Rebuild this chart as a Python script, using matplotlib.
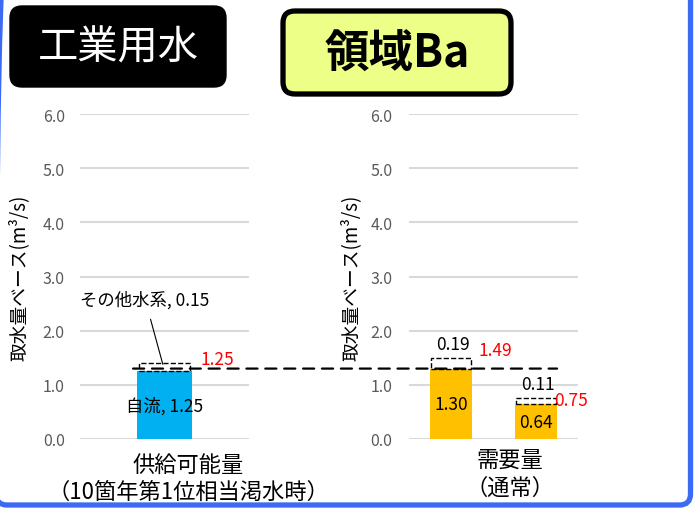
import matplotlib.pyplot as plt
from matplotlib.patches import FancyBboxPatch, ConnectionPatch

plt.rcParams['font.family'] = ['Noto Sans CJK JP', 'DejaVu Sans']

# data
supply_cat = ['供給可能量', '（10箇年第1位相当渇水時）']
supply_main = 1.25
supply_other = 0.15
supply_total = 1.25
supply_main_label = '自流, 1.25'
supply_other_label = 'その他水系, 0.15'

demand_cat = ['需要量', '（通常）']
demand_main = [1.30, 0.64]
demand_extra = [0.19, 0.11]
demand_total = [1.49, 0.75]
demand_line = 1.30

yticks = [0.0, 1.0, 2.0, 3.0, 4.0, 5.0, 6.0]
ylabel = '取水量ベース(m³/s)'

W, H = 697, 510
fig = plt.figure(figsize=(W / 100, H / 100), dpi=100)

# decoration layer in pixel coordinates
deco = fig.add_axes([0, 0, 1, 1], zorder=0)
deco.set_xlim(0, W)
deco.set_ylim(H, 0)
deco.axis('off')
deco.add_patch(FancyBboxPatch((-4, -60), 694.5, 566, boxstyle='round,pad=0,rounding_size=11',
                              fc='none', ec='#3D6AF5', lw=3.8))
deco.add_patch(FancyBboxPatch((10, 7), 216, 81, boxstyle='round,pad=0,rounding_size=12',
                              fc='black', ec='black', lw=1))
deco.text(118, 48, '工業用水', color='white', fontsize=29,
          ha='center', va='center')
deco.add_patch(FancyBboxPatch((283, 12), 228, 83, boxstyle='round,pad=0,rounding_size=12',
                              fc='#EEFF88', ec='black', lw=3.8))
deco.text(397, 55, '領域Ba', color='black', fontsize=32, fontweight='bold', ha='center', va='center')


def style_axes(ax, pad):
    ax.set_xlim(0, 1)
    ax.set_ylim(0, 6)
    ax.set_yticks(yticks)
    ax.set_yticklabels([f'{v:.1f}' for v in yticks])
    ax.set_xticks([])
    ax.tick_params(axis='y', length=0, pad=pad, labelsize=11.5, labelcolor='#595959')
    ax.grid(axis='y', color='#D9D9D9', lw=1.5)
    ax.set_axisbelow(True)
    for s in ax.spines.values():
        s.set_visible(False)
    ax.patch.set_alpha(0)
    ax.set_ylabel(ylabel, fontsize=13.5)


ax1 = fig.add_axes([80 / W, 1 - 440 / H, 169 / W, 325 / H], zorder=2)
ax2 = fig.add_axes([409 / W, 1 - 440 / H, 169 / W, 325 / H], zorder=2)
style_axes(ax1, 11)
style_axes(ax2, 12)
ax1.yaxis.set_label_coords(-0.30, 0.5)
ax2.yaxis.set_label_coords(-0.28, 0.5)

# supply chart
x1 = 0.5
bw1 = 0.325
ax1.bar(x1, supply_main, bw1, color='#00B0F0')
ax1.bar(x1, supply_other, bw1 * 0.93, bottom=supply_main, fc='none', ec='black', ls='--', lw=1)
ax1.text(x1, supply_main / 2, supply_main_label, ha='center', va='center', fontsize=12.5)
ax1.text(x1 + bw1 / 2 + 0.05, supply_main + supply_other + 0.08, f'{supply_total:.2f}',
         color='red', ha='left', va='center', fontsize=12.5)
ax1.annotate(supply_other_label, xy=(x1 - 0.01, supply_main + supply_other - 0.02),
             xytext=(0.385, 2.58), ha='center', va='center', fontsize=12.5,
             arrowprops=dict(arrowstyle='-', lw=0.8, color='black', shrinkA=6, shrinkB=0))
ax1.text(0.64, -0.077, supply_cat[0], transform=ax1.transAxes, ha='center', va='center', fontsize=16)
ax1.text(0.64, -0.16, supply_cat[1], transform=ax1.transAxes, ha='center', va='center', fontsize=16)

# demand chart
xs = [0.25, 0.75]
bw2 = 0.25
ax2.bar(xs, demand_main, bw2, color='#FFC000')
ax2.bar(xs, demand_extra, bw2 * 0.95, bottom=demand_main, fc='none', ec='black', ls='--', lw=1)
for x, m, e, t, dy in zip(xs, demand_main, demand_extra, demand_total, [0.16, -0.03]):
    ax2.text(x, m / 2, f'{m:.2f}', ha='center', va='center', fontsize=12.5)
    ax2.text(x + 0.01, m + e + 0.27, f'{e:.2f}', ha='center', va='center', fontsize=12.5)
    ax2.text(x + bw2 / 2 + (0.035 if dy > 0 else -0.015), t + dy, f'{t:.2f}',
             color='red', ha='left', va='center', fontsize=12.5)
ax2.text(0.6, -0.062, demand_cat[0], transform=ax2.transAxes, ha='center', va='center', fontsize=16)
ax2.text(0.6, -0.148, demand_cat[1], transform=ax2.transAxes, ha='center', va='center', fontsize=16)

# demand level line across both charts
con = ConnectionPatch(xyA=(0.314, demand_line), coordsA=ax1.transData,
                      xyB=(0.876, demand_line), coordsB=ax2.transData,
                      color='black', lw=1.6, ls=(0, (5, 3.5)), zorder=5)
fig.add_artist(con)

fig.savefig('out.png', dpi=100)
